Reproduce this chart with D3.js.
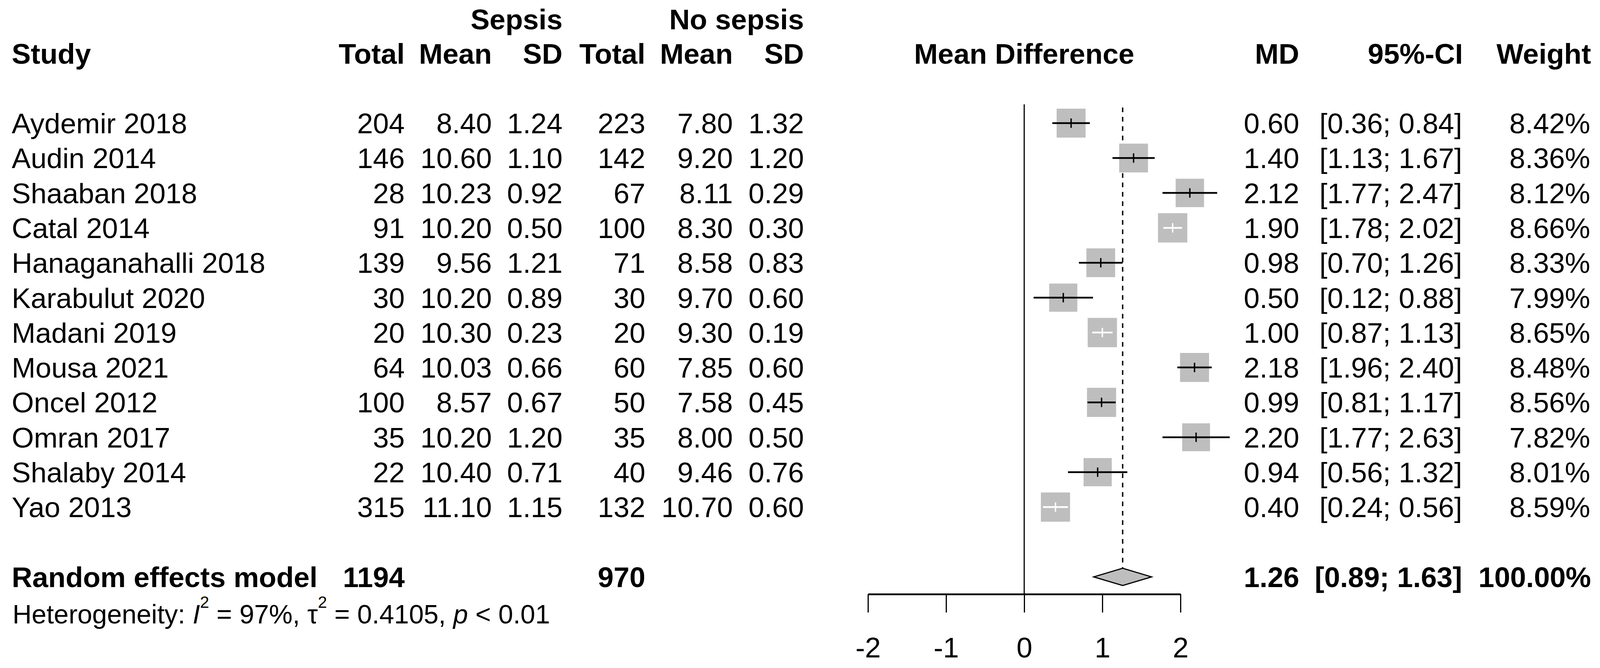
<!DOCTYPE html>
<html>
<head>
<meta charset="utf-8">
<script src="https://d3js.org/d3.v7.min.js"></script>
<style>
  body { margin: 0; background: #fff; }
  text { font-family: "Liberation Sans", Arial, Helvetica, sans-serif; fill: #000; }
</style>
</head>
<body>
<script>

var studies = ["Aydemir 2018", "Audin 2014", "Shaaban 2018", "Catal 2014", "Hanaganahalli 2018",
  "Karabulut 2020", "Madani 2019", "Mousa 2021", "Oncel 2012", "Omran 2017", "Shalaby 2014", "Yao 2013"];
var sepsisTotal = [204, 146, 28, 91, 139, 30, 20, 64, 100, 35, 22, 315];
var sepsisMean  = [8.40, 10.60, 10.23, 10.20, 9.56, 10.20, 10.30, 10.03, 8.57, 10.20, 10.40, 11.10];
var sepsisSD    = [1.24, 1.10, 0.92, 0.50, 1.21, 0.89, 0.23, 0.66, 0.67, 1.20, 0.71, 1.15];
var noTotal     = [223, 142, 67, 100, 71, 30, 20, 60, 50, 35, 40, 132];
var noMean      = [7.80, 9.20, 8.11, 8.30, 8.58, 9.70, 9.30, 7.85, 7.58, 8.00, 9.46, 10.70];
var noSD        = [1.32, 1.20, 0.29, 0.30, 0.83, 0.60, 0.19, 0.60, 0.45, 0.50, 0.76, 0.60];
var md          = [0.60, 1.40, 2.12, 1.90, 0.98, 0.50, 1.00, 2.18, 0.99, 2.20, 0.94, 0.40];
var ciLow       = [0.36, 1.13, 1.77, 1.78, 0.70, 0.12, 0.87, 1.96, 0.81, 1.77, 0.56, 0.24];
var ciHigh      = [0.84, 1.67, 2.47, 2.02, 1.26, 0.88, 1.13, 2.40, 1.17, 2.63, 1.32, 0.56];
var weight      = [8.42, 8.36, 8.12, 8.66, 8.33, 7.99, 8.65, 8.48, 8.56, 7.82, 8.01, 8.59];

var pooledMD = 1.26, pooledLow = 0.89, pooledHigh = 1.63;
var pooledSepsisTotal = 1194, pooledNoTotal = 970;
var axisTicks = [-2, -1, 0, 1, 2];

var W = 4100, H = 1709, fs = 73;

var svg = d3.select("body").append("svg")
  .attr("width", W).attr("height", H)
  .style("background-color", "#fff");

var x = d3.scaleLinear().domain([-2, 2]).range([2222, 3022]);
var y = d3.scaleLinear().domain([0, 13]).range([315, 315 + 13 * 89.3]);
var box = d3.scaleSqrt().domain([0, 100]).range([0, 255]);
var axisY = 1520;

function txt(s, xx, yy, anchor, bold) {
  return svg.append("text").attr("x", xx).attr("y", yy)
    .attr("text-anchor", anchor || "start")
    .style("font-size", fs + "px")
    .style("font-weight", bold ? "bold" : "normal")
    .text(s);
}

// headers
txt("Sepsis", 1440, 75, "end", true);
txt("No sepsis", 2058, 75, "end", true);
txt("Study", 30, 163, "start", true);
[["Total", 1036], ["Mean", 1259], ["SD", 1440], ["Total", 1652], ["Mean", 1876], ["SD", 2058],
 ["MD", 3326], ["95%-CI", 3745], ["Weight", 4073]].forEach(function (h) {
  txt(h[0], h[1], 163, "end", true);
});
txt("Mean Difference", (x.range()[0] + x.range()[1]) / 2, 163, "middle", true);

// table columns
var f2 = d3.format(".2f");
var cols = [
  [sepsisTotal, 1036, String], [sepsisMean, 1259, f2], [sepsisSD, 1440, f2],
  [noTotal, 1652, String], [noMean, 1876, f2], [noSD, 2058, f2],
  [md, 3326, f2]
];
studies.forEach(function (s, i) {
  var by = y(i) + 26;
  txt(s, 30, by, "start");
  cols.forEach(function (c) { txt(c[2](c[0][i]), c[1], by, "end"); });
  txt("[" + f2(ciLow[i]) + "; " + f2(ciHigh[i]) + "]", 3743, by, "end");
  txt(f2(weight[i]) + "%", 4071, by, "end");
});

// pooled row
var py = y(13) + 26;
txt("Random effects model", 30, py, "start", true);
txt(pooledSepsisTotal, 1036, py, "end", true);
txt(pooledNoTotal, 1652, py, "end", true);
txt(f2(pooledMD), 3326, py, "end", true);
txt("[" + f2(pooledLow) + "; " + f2(pooledHigh) + "]", 3743, py, "end", true);
txt("100.00%", 4073, py, "end", true);

// heterogeneity line
var het = svg.append("text").attr("x", 32).attr("y", 1595).style("font-size", "68px");
het.append("tspan").text("Heterogeneity: ");
het.append("tspan").style("font-style", "italic").text("I");
het.append("tspan").attr("dy", -40).style("font-size", "42px").text("2");
het.append("tspan").attr("dy", 40).text(" = 97%, \u03c4");
het.append("tspan").attr("dy", -40).style("font-size", "42px").text("2");
het.append("tspan").attr("dy", 40).text(" = 0.4105, ");
het.append("tspan").style("font-style", "italic").text("p");
het.append("tspan").text(" < 0.01");

// reference lines
svg.append("line")
  .attr("x1", x(0)).attr("x2", x(0)).attr("y1", 267).attr("y2", axisY)
  .attr("stroke", "#000").attr("stroke-width", 3);

var halfD = 22;
svg.append("line")
  .attr("x1", x(pooledMD)).attr("x2", x(pooledMD)).attr("y1", 275).attr("y2", y(13) - halfD)
  .attr("stroke", "#000").attr("stroke-width", 3.5).attr("stroke-dasharray", "12,12");

// study boxes and CIs
var g = svg.selectAll("g.study").data(studies).enter().append("g").attr("class", "study");
g.append("rect")
  .attr("x", function (d, i) { return x(md[i]) - box(weight[i]) / 2; })
  .attr("y", function (d, i) { return y(i) - box(weight[i]) / 2; })
  .attr("width", function (d, i) { return box(weight[i]); })
  .attr("height", function (d, i) { return box(weight[i]); })
  .attr("fill", "#bebebe");

// CI drawn white when it sits inside the square
function inside(i) {
  return (x(ciHigh[i]) - x(ciLow[i])) / 2 < box(weight[i]) / 2 - 2;
}
g.append("line")
  .attr("x1", function (d, i) { return x(ciLow[i]); })
  .attr("x2", function (d, i) { return x(ciHigh[i]); })
  .attr("y1", function (d, i) { return y(i); })
  .attr("y2", function (d, i) { return y(i); })
  .attr("stroke", function (d, i) { return inside(i) ? "#fff" : "#000"; })
  .attr("stroke-width", 4.5);
g.append("line")
  .attr("x1", function (d, i) { return x(md[i]); })
  .attr("x2", function (d, i) { return x(md[i]); })
  .attr("y1", function (d, i) { return y(i) - 12; })
  .attr("y2", function (d, i) { return y(i) + 12; })
  .attr("stroke", function (d, i) { return inside(i) ? "#fff" : "#000"; })
  .attr("stroke-width", 3.5);

// pooled diamond
var dy0 = y(13);
svg.append("polygon")
  .attr("points", [[x(pooledLow), dy0], [x(pooledMD), dy0 - halfD], [x(pooledHigh), dy0], [x(pooledMD), dy0 + halfD]]
    .map(function (p) { return p.join(","); }).join(" "))
  .attr("fill", "#bebebe").attr("stroke", "#000").attr("stroke-width", 3);

// x axis
var ax = svg.append("g").attr("transform", "translate(0," + axisY + ")")
  .call(d3.axisBottom(x).tickValues(axisTicks).tickSize(47).tickSizeOuter(0).tickPadding(63)
    .tickFormat(d3.format("d")));
ax.select(".domain").attr("stroke", "#000").attr("stroke-width", 4.5);
ax.selectAll(".tick line").attr("stroke", "#000").attr("stroke-width", 3);
ax.selectAll(".tick text")
  .style("font-size", fs + "px")
  .style("font-family", "'Liberation Sans', Arial, sans-serif")
  .attr("fill", "#000")
  .text(function (d) { return d < 0 ? "-" + Math.abs(d) : d; });

</script>
</body>
</html>
